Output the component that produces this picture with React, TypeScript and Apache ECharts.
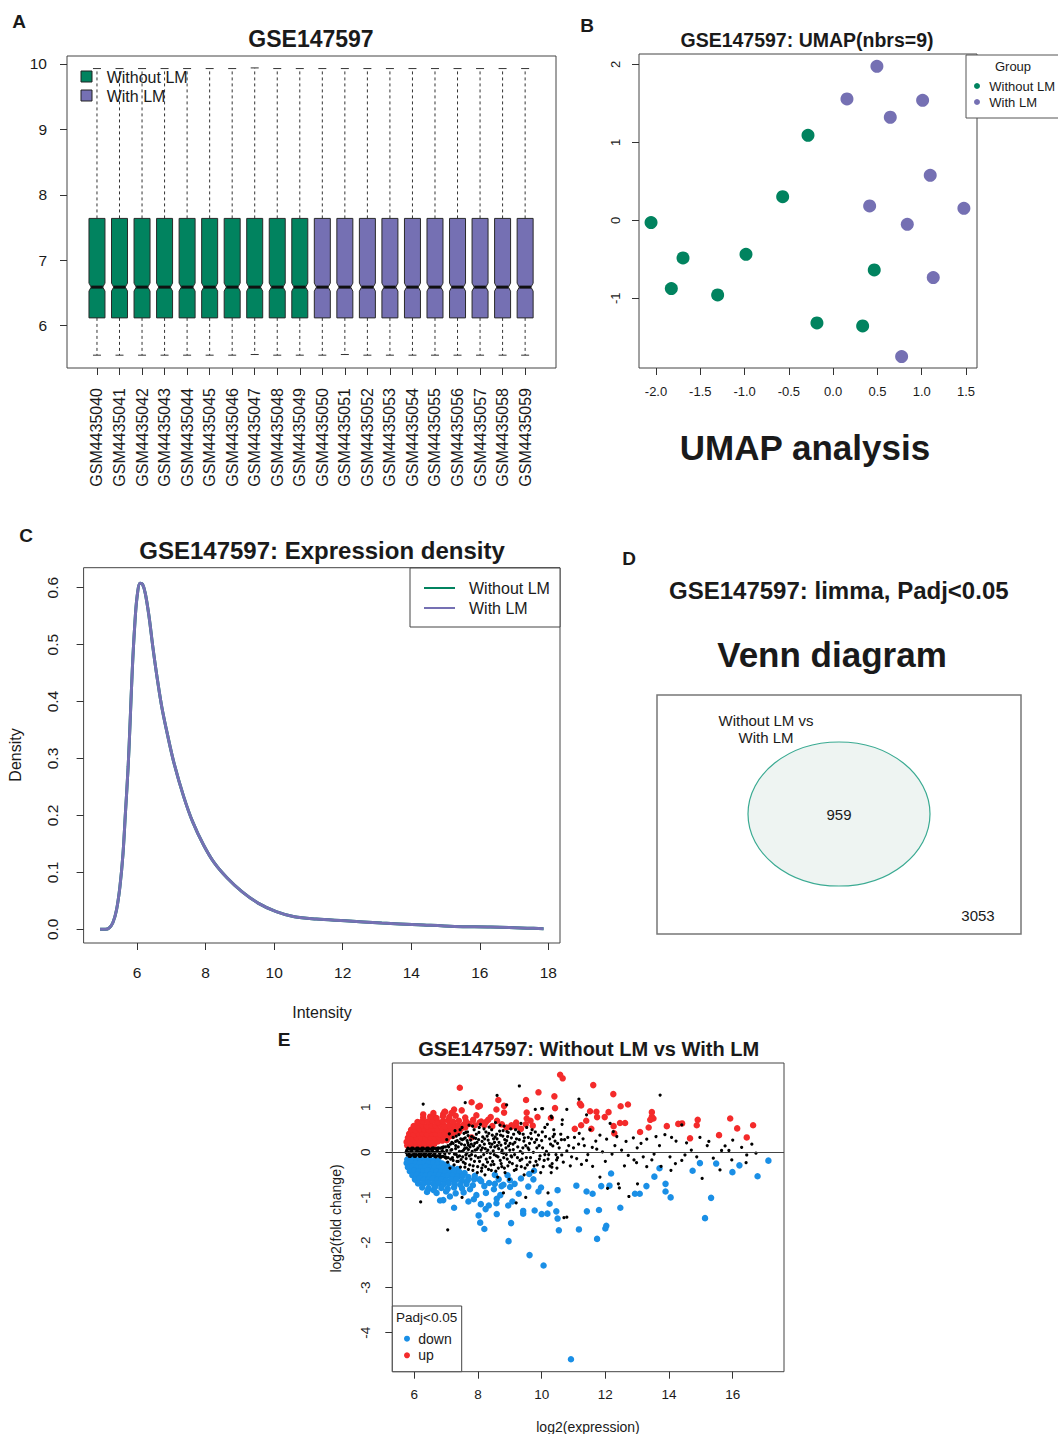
import React, { useEffect, useRef } from 'react';
import * as echarts from 'echarts';

const FONT = "'Liberation Sans', Arial, Helvetica, sans-serif";
const GREEN = '#01835f';
const PURPLE = '#7570b3';
const RED = '#f42b2b';
const BLUE = '#1a8fe6';
const INK = '#1a1a1a';
const FRAME = '#444';

// ---- Panel A: per-sample expression boxplots ----
const sampleIds = [
  'GSM4435040', 'GSM4435041', 'GSM4435042', 'GSM4435043', 'GSM4435044',
  'GSM4435045', 'GSM4435046', 'GSM4435047', 'GSM4435048', 'GSM4435049',
  'GSM4435050', 'GSM4435051', 'GSM4435052', 'GSM4435053', 'GSM4435054',
  'GSM4435055', 'GSM4435056', 'GSM4435057', 'GSM4435058', 'GSM4435059',
];
const sampleGroups = [
  'Without LM', 'Without LM', 'Without LM', 'Without LM', 'Without LM',
  'Without LM', 'Without LM', 'Without LM', 'Without LM', 'Without LM',
  'With LM', 'With LM', 'With LM', 'With LM', 'With LM',
  'With LM', 'With LM', 'With LM', 'With LM', 'With LM',
];
const whiskerLow = [5.55, 5.55, 5.55, 5.55, 5.55, 5.55, 5.55, 5.56, 5.55, 5.55, 5.55, 5.56, 5.55, 5.55, 5.55, 5.55, 5.55, 5.55, 5.55, 5.55];
const quartile1 = [6.12, 6.12, 6.12, 6.12, 6.12, 6.12, 6.12, 6.12, 6.12, 6.12, 6.12, 6.12, 6.12, 6.12, 6.12, 6.12, 6.12, 6.12, 6.12, 6.12];
const medians = [6.59, 6.59, 6.59, 6.59, 6.59, 6.59, 6.59, 6.59, 6.59, 6.59, 6.59, 6.59, 6.59, 6.59, 6.59, 6.59, 6.59, 6.59, 6.59, 6.59];
const quartile3 = [7.64, 7.64, 7.64, 7.64, 7.64, 7.64, 7.64, 7.64, 7.64, 7.64, 7.64, 7.64, 7.64, 7.64, 7.64, 7.64, 7.64, 7.64, 7.64, 7.64];
const whiskerHigh = [9.93, 9.93, 9.93, 9.93, 9.93, 9.93, 9.93, 9.94, 9.93, 9.93, 9.93, 9.93, 9.93, 9.93, 9.93, 9.93, 9.93, 9.93, 9.93, 9.93];
const boxYTicks = [6, 7, 8, 9, 10];
const boxXTicks = [1, 2, 3, 4, 5, 6, 7, 8, 9, 10, 11, 12, 13, 14, 15, 16, 17, 18, 19, 20];

// ---- Panel B: UMAP embedding ----
const umapWithoutLm = [
  [-2.056, -0.03], [-1.695, -0.483], [-1.827, -0.876], [-1.304, -0.957], [-0.984, -0.436],
  [-0.57, 0.303], [-0.284, 1.09], [-0.183, -1.316], [0.333, -1.355], [0.464, -0.637],
];
const umapWithLm = [
  [0.494, 1.974], [0.156, 1.556], [1.01, 1.538], [0.645, 1.321], [1.096, 0.577],
  [0.412, 0.184], [1.476, 0.154], [0.837, -0.051], [1.13, -0.735], [0.773, -1.748],
];
const umapXTicks = [-2, -1.5, -1, -0.5, 0, 0.5, 1, 1.5];
const umapYTicks = [-1, 0, 1, 2];

// ---- Panel C: expression density ----
const densityX = [
  4.92, 5.08, 5.18, 5.29, 5.4, 5.5, 5.59, 5.66, 5.74, 5.8, 5.86, 5.93, 6.0, 6.09, 6.16, 6.24, 6.35, 6.46, 6.58,
  6.72, 6.88, 7.09, 7.36, 7.62, 7.94, 8.26, 8.63, 9.06, 9.53, 10.06, 10.59, 11.23, 12.08, 13.14, 14.2, 15.26,
  16.32, 17.38, 17.86,
];
const densityWithoutLm = [
  0, 0, 0.002, 0.011, 0.034, 0.075, 0.133, 0.204, 0.286, 0.368, 0.455, 0.532, 0.584, 0.608, 0.606, 0.59, 0.549,
  0.496, 0.444, 0.391, 0.344, 0.289, 0.233, 0.189, 0.148, 0.116, 0.09, 0.066, 0.046, 0.031, 0.022, 0.018, 0.015,
  0.011, 0.008, 0.005, 0.004, 0.002, 0.001,
];
const densityWithLm = [
  0, 0, 0.002, 0.011, 0.034, 0.075, 0.133, 0.204, 0.286, 0.368, 0.455, 0.532, 0.584, 0.608, 0.606, 0.59, 0.549,
  0.496, 0.444, 0.391, 0.344, 0.289, 0.233, 0.189, 0.148, 0.116, 0.09, 0.066, 0.046, 0.031, 0.022, 0.018, 0.015,
  0.011, 0.008, 0.005, 0.004, 0.002, 0.001,
];
const densityXTicks = [6, 8, 10, 12, 14, 16, 18];
const densityYTicks = [0, 0.1, 0.2, 0.3, 0.4, 0.5, 0.6];

// ---- Panel D: Venn counts ----
const vennSetLabel = ['Without LM vs', 'With LM'];
const vennInside = 959;
const vennOutside = 3053;

// ---- Panel E: MA plot (log2 expression, log2 fold change) ----
const maUp = [
  [10.58, 1.72], [10.66, 1.64], [11.62, 1.49], [9.9, 1.33], [12.25, 1.29], [10.4, 1.24], [9.51, 1.16], [11.2, 1.08],
  [11.24, 1.04], [12.71, 1.06], [12.48, 1.02], [10.42, 0.98], [9.53, 0.88], [11.52, 0.91], [11.72, 0.9], [12.1, 0.89],
  [13.46, 0.89], [13.46, 0.79], [13.51, 0.75], [13.41, 0.72], [11.98, 0.78], [11.74, 0.78], [9.53, 0.75], [9.87, 0.78],
  [10.29, 0.76], [11.4, 0.7], [11.24, 0.6], [11.04, 0.52], [11.56, 0.52], [12.26, 0.58], [12.46, 0.65], [12.62, 0.65],
  [13.93, 0.58], [14.29, 0.63], [14.41, 0.64], [14.87, 0.6], [14.9, 0.72], [15.92, 0.75], [16.14, 0.53], [16.64, 0.6],
  [16.44, 0.33], [15.57, 0.38], [14.66, 0.31], [13.36, 0.55], [13.09, 0.45], [12.28, 0.42], [9.72, 0.59], [7.43, 1.43],
  [7.8, 1.11], [8.64, 1.16], [8.82, 1.03], [8.58, 0.95], [8.01, 1.01], [7.49, 0.93], [7.25, 0.95], [7.17, 0.87],
  [6.91, 0.85], [6.6, 0.81], [6.28, 0.84], [6.13, 0.66], [8.25, 0.67], [8.82, 0.88], [9.21, 0.57], [9.04, 0.56],
  [7.8, 0.33], [6.97, 0.9], [8.06, 1.03],
  [5.78, 0.15], [5.92, 0.14], [6.06, 0.16], [6.2, 0.15], [6.34, 0.16], [6.48, 0.17], [6.62, 0.18],
  [5.76, 0.23], [5.9, 0.22], [6.04, 0.24], [6.18, 0.23], [6.32, 0.22], [6.46, 0.24], [6.6, 0.25], [6.74, 0.24], [6.88, 0.26], [7.02, 0.27],
  [5.8, 0.32], [5.94, 0.31], [6.08, 0.33], [6.22, 0.32], [6.36, 0.31], [6.5, 0.33], [6.64, 0.32], [6.78, 0.33], [6.92, 0.34], [7.06, 0.33], [7.2, 0.36],
  [5.84, 0.41], [5.98, 0.4], [6.12, 0.42], [6.26, 0.41], [6.4, 0.4], [6.54, 0.42], [6.68, 0.41], [6.82, 0.4], [6.96, 0.42], [7.1, 0.43], [7.24, 0.42], [7.4, 0.45],
  [5.9, 0.5], [6.04, 0.49], [6.18, 0.51], [6.32, 0.5], [6.46, 0.49], [6.6, 0.51], [6.74, 0.5], [6.88, 0.52], [7.02, 0.5], [7.16, 0.51], [7.3, 0.53], [7.46, 0.52], [7.6, 0.55],
  [5.98, 0.58], [6.12, 0.59], [6.26, 0.6], [6.4, 0.58], [6.54, 0.6], [6.68, 0.59], [6.82, 0.61], [6.96, 0.58], [7.1, 0.6], [7.24, 0.62], [7.38, 0.59], [7.55, 0.61], [7.72, 0.63], [7.9, 0.6],
  [6.1, 0.67], [6.26, 0.69], [6.42, 0.68], [6.58, 0.7], [6.74, 0.67], [6.9, 0.69], [7.06, 0.71], [7.22, 0.68], [7.4, 0.7], [7.62, 0.69], [7.85, 0.72], [8.1, 0.68],
  [6.28, 0.77], [6.5, 0.79], [6.7, 0.76], [6.9, 0.8], [7.1, 0.78], [7.3, 0.81], [7.6, 0.77],
  [6.6, 0.87], [6.95, 0.9], [7.2, 0.88],
  [8.05, 0.66], [8.2, 0.6], [8.32, 0.72], [8.45, 0.58], [8.6, 0.7], [8.75, 0.62], [8.9, 0.55], [9.05, 0.6], [9.2, 0.66],
  [9.35, 0.52], [8.4, 0.78], [7.95, 0.82], [9.5, 0.62], [9.65, 0.7],
];
const maDown = [
  [17.12, -0.185], [16.78, -0.53], [16.21, -0.29], [15.99, -0.44], [15.48, -0.25], [14.97, -0.24], [14.74, -0.41], [15.32, -1.01],
  [15.13, -1.46], [14.05, -1.0], [13.89, -0.87], [13.89, -0.7], [13.7, -0.355], [13.54, -0.54], [13.29, -0.75], [13.08, -0.92],
  [12.93, -0.92], [12.47, -1.23], [12.18, -0.47], [12.13, -0.74], [11.87, -0.75], [12.03, -1.63], [12.0, -1.69], [11.74, -1.92],
  [11.8, -1.28], [11.6, -0.92], [11.41, -0.87], [11.42, -1.31], [11.17, -1.71], [11.09, -0.74], [10.92, -4.59], [10.54, -1.73],
  [10.5, -1.47], [10.46, -1.31], [10.5, -0.84], [10.25, -1.14], [10.06, -2.51], [10.18, -1.36], [10.0, -1.37], [9.62, -2.28],
  [9.78, -1.29], [9.42, -1.3], [9.42, -1.36], [9.9, -0.87], [9.98, -0.78], [9.74, -0.6], [9.61, -0.48], [9.58, -0.76],
  [9.76, -0.41], [8.96, -1.97], [9.04, -1.57], [8.95, -1.18], [9.08, -1.09], [9.28, -0.92], [9.01, -0.77], [8.93, -0.51],
  [8.74, -0.75], [8.59, -1.37], [8.58, -1.13], [8.59, -1.03], [8.53, -0.7], [8.53, -0.5], [8.34, -1.18], [8.2, -1.7],
  [8.07, -1.56], [8.02, -1.4], [8.24, -1.26], [8.09, -1.15], [7.87, -1.04], [7.7, -1.09], [7.25, -1.23], [7.12, -0.98],
  [6.91, -1.06], [6.81, -1.07], [6.61, -0.84], [6.44, -0.82], [6.03, -0.6],
  [5.78, -0.16], [5.92, -0.15], [6.06, -0.17], [6.2, -0.16], [6.34, -0.17], [6.48, -0.16], [6.62, -0.18], [6.76, -0.19],
  [5.76, -0.24], [5.9, -0.23], [6.04, -0.25], [6.18, -0.24], [6.32, -0.23], [6.46, -0.25], [6.6, -0.24], [6.74, -0.26], [6.88, -0.25], [7.02, -0.27],
  [5.8, -0.33], [5.94, -0.32], [6.08, -0.34], [6.22, -0.33], [6.36, -0.32], [6.5, -0.34], [6.64, -0.33], [6.78, -0.35], [6.92, -0.34], [7.06, -0.33], [7.2, -0.36], [7.36, -0.37],
  [5.86, -0.42], [6.0, -0.41], [6.14, -0.43], [6.28, -0.42], [6.42, -0.41], [6.56, -0.43], [6.7, -0.42], [6.84, -0.44], [6.98, -0.42], [7.12, -0.43], [7.26, -0.45], [7.42, -0.44], [7.58, -0.46],
  [5.94, -0.51], [6.08, -0.5], [6.22, -0.52], [6.36, -0.51], [6.5, -0.5], [6.64, -0.52], [6.78, -0.51], [6.92, -0.53], [7.06, -0.51], [7.2, -0.52], [7.36, -0.54], [7.52, -0.53], [7.7, -0.55], [7.9, -0.52],
  [6.02, -0.6], [6.16, -0.59], [6.3, -0.61], [6.44, -0.6], [6.58, -0.59], [6.72, -0.61], [6.86, -0.6], [7.0, -0.62], [7.16, -0.6], [7.32, -0.61], [7.5, -0.63], [7.68, -0.62], [7.88, -0.6], [8.1, -0.64],
  [6.12, -0.69], [6.28, -0.7], [6.44, -0.68], [6.6, -0.7], [6.76, -0.69], [6.92, -0.71], [7.08, -0.69], [7.26, -0.7], [7.44, -0.72], [7.64, -0.7], [7.84, -0.73],
  [6.25, -0.78], [6.45, -0.8], [6.65, -0.77], [6.85, -0.79], [7.05, -0.81], [7.25, -0.78], [7.5, -0.8], [7.75, -0.82],
  [6.4, -0.88], [6.7, -0.9], [7.0, -0.87], [7.3, -0.91], [7.55, -0.89],
  [8.05, -0.6], [8.2, -0.75], [8.35, -0.68], [8.5, -0.82], [8.65, -0.6], [8.8, -0.72], [9.0, -0.62], [9.15, -0.7],
  [9.35, -0.58], [8.25, -0.9], [8.7, -0.95], [7.95, -0.95],
];
const maOther = [
  [5.74, 0.0], [5.78, 0.06], [5.78, -0.06], [5.82, 0.0], [5.86, 0.07], [5.86, -0.07], [5.9, 0.01], [5.94, 0.06], [5.94, -0.06],
  [5.98, -0.01], [6.02, 0.07], [6.02, -0.07], [6.06, 0.0], [6.1, 0.06], [6.1, -0.06], [6.14, 0.01], [6.18, 0.07], [6.18, -0.07],
  [6.22, 0.0], [6.26, 0.06], [6.26, -0.06], [6.3, -0.01], [6.34, 0.07], [6.34, -0.07], [6.38, 0.0], [6.42, 0.06], [6.42, -0.06],
  [6.46, 0.01], [6.5, 0.07], [6.5, -0.07], [6.54, 0.0], [6.58, 0.06], [6.58, -0.07], [6.62, 0.0], [6.66, 0.08], [6.66, -0.07],
  [6.7, 0.01], [6.74, 0.07], [6.74, -0.08], [6.78, 0.0], [6.82, 0.09], [6.82, -0.08], [6.86, 0.01], [6.9, 0.1], [6.9, -0.09],
  [6.94, 0.0], [6.98, 0.12], [6.98, -0.1], [7.02, 0.04], [7.06, 0.15], [7.06, -0.12], [7.1, -0.02], [7.14, 0.18], [7.14, -0.15],
  [7.18, 0.06], [7.22, 0.2], [7.22, -0.18], [7.26, -0.04], [7.3, 0.24], [7.3, 0.08], [7.34, -0.2], [7.38, 0.12], [7.42, -0.08],
  [7.46, 0.3], [7.5, 0.02], [7.54, -0.22], [7.58, 0.16], [7.62, -0.06], [7.66, 0.26], [7.7, 0.06],
  [5.8, 0.09], [5.88, -0.09], [5.96, 0.09], [6.04, -0.09], [6.12, 0.09], [6.2, -0.09], [6.28, 0.09], [6.36, -0.09],
  [6.44, 0.09], [6.52, -0.09], [6.6, 0.1], [6.68, -0.1], [6.76, 0.1], [6.84, -0.11], [6.92, 0.12], [7.0, -0.13],
  [5.84, -0.09], [5.92, 0.09], [6.0, -0.09], [6.08, 0.09], [6.16, -0.09], [6.24, 0.09], [6.32, -0.09], [6.4, 0.09],
  [6.48, -0.09], [6.56, 0.09], [6.64, -0.09], [6.72, 0.09], [6.8, -0.1], [6.88, 0.11], [6.96, -0.11],
  [5.76, 0.035], [5.84, -0.035], [5.92, 0.035], [6.0, -0.035], [6.08, 0.035], [6.16, -0.035], [6.24, 0.035], [6.32, -0.035],
  [6.4, 0.035], [6.48, -0.035], [6.56, 0.035], [6.64, -0.035], [6.72, 0.035], [6.8, -0.035], [6.88, 0.035], [6.96, -0.035],
  [7.02, 0.28], [7.05, -0.22], [7.08, 0.12], [7.1, 0.41], [7.12, -0.35], [7.15, 0.05], [7.18, 0.22], [7.2, -0.12], [7.22, 0.33], [7.25, -0.28],
  [7.28, 0.48], [7.3, 0.15], [7.32, -0.05], [7.35, 0.26], [7.38, -0.2], [7.4, 0.39], [7.42, 0.02], [7.45, -0.33], [7.48, 0.18], [7.5, 0.55],
  [7.52, -0.1], [7.55, 0.3], [7.58, 0.08], [7.6, -0.25], [7.62, 0.44], [7.65, -0.02], [7.68, 0.21], [7.7, -0.38], [7.72, 0.6], [7.75, 0.12],
  [7.78, -0.15], [7.8, 0.35], [7.82, 0.02], [7.85, -0.3], [7.88, 0.5], [7.9, 0.2], [7.92, -0.08], [7.95, 0.4], [7.98, -0.45], [8.0, 0.1],
  [8.02, 0.28], [8.05, -0.2], [8.08, 0.62], [8.1, 0.05], [8.12, -0.35], [8.15, 0.34], [8.18, -0.05], [8.2, 0.18], [8.22, -0.5], [8.25, 0.45],
  [8.28, 0.0], [8.3, -0.22], [8.32, 0.27], [8.35, 0.56], [8.38, -0.12], [8.4, 0.12], [8.42, -0.4], [8.45, 0.38], [8.48, 0.03], [8.5, -0.27],
  [8.52, 0.22], [8.55, 0.66], [8.58, -0.08], [8.6, 0.3], [8.62, -0.55], [8.65, 0.08], [8.68, 0.47], [8.7, -0.18], [8.72, 0.16], [8.75, -0.32],
  [8.78, 0.36], [8.8, -0.02], [8.82, 0.58], [8.85, -0.45], [8.88, 0.1], [8.9, 0.26], [8.92, -0.15], [8.95, 0.44], [8.98, -0.6], [9.0, 0.05],
  [9.05, 0.32], [9.08, -0.25], [9.1, 0.18], [9.15, -0.05], [9.18, 0.5], [9.2, -0.38], [9.25, 0.12], [9.3, 0.28], [9.32, -0.18], [9.35, 0.64],
  [9.4, -0.02], [9.42, 0.4], [9.45, -0.5], [9.5, 0.15], [9.55, -0.28], [9.58, 0.33], [9.6, 0.06], [9.65, -0.12], [9.7, 0.5], [9.72, -0.42],
  [9.78, 0.22], [9.82, -0.2], [9.85, 0.1], [9.9, 0.38], [9.95, -0.08], [10.0, 0.26], [10.05, -0.32], [10.1, 0.55], [10.15, 0.02], [10.2, -0.15],
  [10.25, 0.3], [10.3, -0.45], [10.35, 0.14], [10.4, 0.4], [10.45, -0.05], [10.5, 0.2],
  [7.55, 0.05], [7.6, 0.32], [7.63, -0.14], [7.67, 0.45], [7.7, 0.16], [7.74, -0.28], [7.77, 0.27], [7.8, -0.05], [7.83, 0.58],
  [7.86, 0.14], [7.89, -0.2], [7.93, 0.31], [7.96, 0.06], [7.99, -0.32], [8.03, 0.44], [8.06, 0.15], [8.09, -0.1], [8.13, 0.24],
  [8.16, -0.28], [8.19, 0.52], [8.23, 0.08], [8.26, -0.15], [8.29, 0.36], [8.33, -0.38], [8.36, 0.2], [8.39, -0.02], [8.43, 0.5],
  [8.46, -0.2], [8.49, 0.3], [8.53, 0.12], [8.56, -0.42], [8.59, 0.4], [8.63, -0.1], [8.66, 0.22], [8.69, 0.6], [8.73, -0.25],
  [8.76, 0.05], [8.79, 0.48], [8.83, -0.35], [8.86, 0.2], [8.89, -0.05], [8.93, 0.35], [8.96, 0.14], [8.99, -0.22], [9.03, 0.52],
  [9.06, -0.1], [9.12, 0.4], [9.16, 0.22], [9.22, -0.3], [9.27, 0.45], [9.33, 0.02], [9.38, -0.15], [9.44, 0.25], [9.48, -0.35],
  [9.53, 0.55], [9.57, 0.1], [9.63, -0.22], [9.68, 0.3], [9.74, 0.0], [9.8, 0.45], [9.86, -0.28], [9.92, 0.15], [9.97, -0.45],
  [10.03, 0.1], [10.08, -0.18], [10.12, 0.35], [10.18, 0.62], [10.22, -0.05], [10.28, 0.18], [10.33, -0.25], [10.38, 0.5],
  [10.42, 0.25], [10.48, -0.35], [10.55, 0.1], [10.6, 0.4], [10.68, -0.22], [10.72, 0.28], [10.85, 0.15], [10.9, -0.3],
  [11.0, 0.1], [11.3, 0.3], [11.45, -0.05], [11.7, 0.25], [12.0, -0.2], [12.3, 0.15], [12.6, -0.3], [13.0, 0.1], [13.7, 0.15],
  [14.2, -0.25], [14.7, 0.05], [15.2, 0.15], [16.6, 0.18],
  [7.32, 0.36], [7.36, -0.1], [7.41, 0.22], [7.44, 0.5], [7.47, -0.16], [7.51, 0.28], [7.56, 0.42], [7.59, -0.33], [7.64, 0.1],
  [7.69, 0.37], [7.73, -0.08], [7.79, 0.18], [7.84, -0.4], [7.87, 0.32], [7.91, 0.05], [7.97, 0.22], [8.01, -0.12], [8.04, 0.55],
  [8.11, -0.42], [8.14, 0.1], [8.21, 0.3], [8.24, -0.32], [8.31, 0.05], [8.34, 0.42], [8.41, -0.28], [8.44, 0.18], [8.51, -0.05],
  [8.54, 0.34], [8.61, 0.15], [8.64, -0.35], [8.71, 0.38], [8.74, 0.0], [8.81, -0.12], [8.84, 0.28], [8.91, 0.46], [8.94, -0.3],
  [9.01, 0.2], [9.04, -0.08], [9.11, 0.06], [9.14, -0.4], [9.21, 0.3], [9.24, -0.12], [9.31, 0.42], [9.36, -0.32], [9.41, 0.1],
  [9.46, 0.32], [9.52, -0.12], [9.62, 0.2], [9.66, 0.42], [9.76, -0.3], [9.84, 0.28], [9.93, -0.15], [10.02, 0.45], [10.1, -0.05],
  [10.26, -0.3], [10.36, 0.35], [10.5, -0.12], [10.62, 0.28],
  [8.6, 1.26], [9.3, 1.47], [6.28, 1.07], [7.6, 1.1], [8.9, 1.05], [9.8, 0.95], [10.0, 0.97], [10.3, 0.8],
  [6.2, -1.1], [7.05, -1.72], [7.5, -1.0], [8.8, -0.9], [9.2, -1.12], [9.5, -1.0], [10.7, -1.45], [10.2, -0.9],
  [13.72, 1.27], [11.17, 1.18], [10.82, 0.33], [11.03, 0.33], [11.52, 0.5], [11.83, 0.38], [12.04, 0.29], [12.36, 0.35],
  [12.65, 0.24], [12.88, 0.32], [13.12, 0.2], [13.3, 0.29], [13.59, 0.35], [13.87, 0.39], [14.08, 0.33], [14.22, 0.25],
  [14.55, 0.21], [14.97, 0.33], [15.25, 0.24], [15.65, 0.04], [15.88, 0.04], [16.28, 0.11], [16.44, -0.06], [16.73, -0.02],
  [15.97, -0.17], [16.42, -0.23], [15.6, -0.39], [15.04, -0.58], [14.4, -0.18], [14.06, -0.4], [13.75, -0.31], [13.46, -0.17],
  [13.3, -0.32], [12.98, -0.23], [13.01, -0.7], [12.74, -0.98], [12.41, -0.7], [12.44, -0.79], [12.07, -0.8], [11.83, -0.55],
  [11.6, -0.31], [11.41, -0.18], [11.25, -0.27], [11.1, -0.14], [10.94, -0.1], [10.79, 0.03], [10.63, -0.06], [10.47, -0.17],
  [10.32, -0.33], [10.79, -1.44], [11.16, 0.18], [11.34, 0.15], [11.59, 0.11], [11.73, 0.07], [11.91, 0.01], [12.21, -0.04],
  [12.51, 0.05], [12.72, -0.07], [12.9, -0.17], [13.19, -0.1], [13.53, -0.04], [14.03, -0.1], [14.5, -0.06], [14.87, -0.1],
  [15.39, -0.13], [10.65, 0.72], [10.32, 0.77], [10.03, 0.97], [11.18, 0.42], [10.64, 0.62], [12.15, 0.64], [11.41, 0.83],
  [10.79, 0.95], [12.25, 0.46], [14.4, 0.61], [15.76, 0.14], [16.0, 0.27],
];
const maXTicks = [6, 8, 10, 12, 14, 16];
const maYTicks = [-4, -3, -2, -1, 0, 1];

const boxData = sampleIds.map((_, i) => [i + 1, whiskerLow[i], quartile1[i], medians[i], quartile3[i], whiskerHigh[i]]);

function valueAxis(gridIndex: number, min: number, max: number, ticks: number[], opts: any) {
  return {
    type: 'value',
    gridIndex,
    min,
    max,
    axisLine: { show: false, onZero: false },
    splitLine: { show: false },
    axisTick: { show: true, inside: false, length: 7, customValues: ticks, lineStyle: { color: '#333', width: 1 } },
    axisLabel: {
      customValues: ticks,
      color: INK,
      fontFamily: FONT,
      fontSize: opts.fontSize,
      margin: opts.margin,
      rotate: opts.rotate || 0,
      formatter: opts.formatter,
      hideOverlap: false,
    },
  };
}

function text(x: number, y: number, str: string, size: number, extra: any = {}) {
  return {
    type: 'text',
    x,
    y,
    z: 100,
    rotation: extra.rotation || 0,
    style: {
      text: str,
      fontSize: size,
      fontWeight: extra.bold ? 'bold' : 'normal',
      fontFamily: FONT,
      fill: extra.fill || INK,
      align: extra.align || 'center',
      verticalAlign: 'middle',
    },
  };
}

function renderBox(params: any, api: any) {
  const idx = params.dataIndex;
  const x = api.value(0);
  const cx = api.coord([x, api.value(3)])[0];
  const yLo = api.coord([x, api.value(1)])[1];
  const yQ1 = api.coord([x, api.value(2)])[1];
  const yMed = api.coord([x, api.value(3)])[1];
  const yQ3 = api.coord([x, api.value(4)])[1];
  const yHi = api.coord([x, api.value(5)])[1];
  const hw = 8;
  const nd = 2.2;
  const nh = 4;
  const cap = 4;
  const fill = sampleGroups[idx] === 'Without LM' ? GREEN : PURPLE;
  const whisk = { stroke: '#333', lineWidth: 1, lineDash: [3, 3] };
  const solid = { stroke: '#333', lineWidth: 1 };
  return {
    type: 'group',
    children: [
      { type: 'line', shape: { x1: cx, y1: yQ3, x2: cx, y2: yHi }, style: whisk },
      { type: 'line', shape: { x1: cx, y1: yQ1, x2: cx, y2: yLo }, style: whisk },
      { type: 'line', shape: { x1: cx - cap, y1: yHi, x2: cx + cap, y2: yHi }, style: solid },
      { type: 'line', shape: { x1: cx - cap, y1: yLo, x2: cx + cap, y2: yLo }, style: solid },
      {
        type: 'polygon',
        shape: {
          points: [
            [cx - hw, yQ1], [cx - hw, yMed + nh], [cx - hw + nd, yMed], [cx - hw, yMed - nh], [cx - hw, yQ3],
            [cx + hw, yQ3], [cx + hw, yMed - nh], [cx + hw - nd, yMed], [cx + hw, yMed + nh], [cx + hw, yQ1],
          ],
        },
        style: { fill, stroke: '#2a2a2a', lineWidth: 1 },
      },
      { type: 'line', shape: { x1: cx - hw + nd, y1: yMed, x2: cx + hw - nd, y2: yMed }, style: { stroke: '#111', lineWidth: 3 } },
    ],
  };
}

export default function App() {
  const ref = useRef<HTMLDivElement>(null);

  useEffect(() => {
    if (!ref.current) return;
    const chart = echarts.init(ref.current, null, { renderer: 'svg' });
    const gridStyle = { show: true, borderColor: FRAME, borderWidth: 1, backgroundColor: 'transparent' };

    const option: any = {
      animation: false,
      backgroundColor: '#ffffff',
      grid: [
        { left: 67, top: 56, width: 489, height: 312, ...gridStyle },
        { left: 639, top: 54, width: 338, height: 314, ...gridStyle },
        { left: 83.6, top: 567.7, width: 476.4, height: 375.3, ...gridStyle },
        { left: 392.3, top: 1063, width: 391.7, height: 308.7, ...gridStyle },
      ],
      xAxis: [
        valueAxis(0, -0.33, 21.37, boxXTicks, {
          fontSize: 16, margin: 20, rotate: 90,
          formatter: (v: number) => sampleIds[Math.round(v) - 1] || '',
        }),
        valueAxis(1, -2.192, 1.624, umapXTicks, { fontSize: 13, margin: 17, formatter: (v: number) => v.toFixed(1) }),
        valueAxis(2, 4.44, 18.34, densityXTicks, { fontSize: 15.5, margin: 21, formatter: (v: number) => String(v) }),
        valueAxis(3, 5.31, 17.61, maXTicks, { fontSize: 13.5, margin: 16, formatter: (v: number) => String(v) }),
      ],
      yAxis: [
        valueAxis(0, 5.354, 10.122, boxYTicks, { fontSize: 15.5, margin: 20, formatter: (v: number) => String(v) }),
        valueAxis(1, -1.894, 2.132, umapYTicks, { fontSize: 13, margin: 17, rotate: 90, formatter: (v: number) => String(v) }),
        valueAxis(2, -0.0241, 0.6351, densityYTicks, { fontSize: 15.5, margin: 23, rotate: 90, formatter: (v: number) => v.toFixed(1) }),
        valueAxis(3, -4.865, 1.98, maYTicks, { fontSize: 13.5, margin: 20, rotate: 90, formatter: (v: number) => String(v) }),
      ],
      series: [
        {
          type: 'custom',
          xAxisIndex: 0,
          yAxisIndex: 0,
          renderItem: renderBox,
          data: boxData,
          encode: { x: 0, y: [1, 2, 3, 4, 5] },
          silent: true,
        },
        { type: 'scatter', name: 'Without LM', xAxisIndex: 1, yAxisIndex: 1, data: umapWithoutLm, symbolSize: 13, itemStyle: { color: GREEN, opacity: 1 }, silent: true },
        { type: 'scatter', name: 'With LM', xAxisIndex: 1, yAxisIndex: 1, data: umapWithLm, symbolSize: 13, itemStyle: { color: PURPLE, opacity: 1 }, silent: true },
        {
          type: 'line', name: 'Without LM', xAxisIndex: 2, yAxisIndex: 2,
          data: densityX.map((x, i) => [x, densityWithoutLm[i]]),
          showSymbol: false, smooth: 0.35,
          lineStyle: { color: GREEN, width: 3 }, silent: true,
        },
        {
          type: 'line', name: 'With LM', xAxisIndex: 2, yAxisIndex: 2,
          data: densityX.map((x, i) => [x, densityWithLm[i]]),
          showSymbol: false, smooth: 0.35,
          lineStyle: { color: PURPLE, width: 3 }, silent: true,
        },
        { type: 'scatter', name: 'up', xAxisIndex: 3, yAxisIndex: 3, data: maUp, symbolSize: 6.5, itemStyle: { color: RED, opacity: 1 }, silent: true },
        { type: 'scatter', name: 'down', xAxisIndex: 3, yAxisIndex: 3, data: maDown, symbolSize: 6.5, itemStyle: { color: BLUE, opacity: 1 }, silent: true },
        {
          type: 'scatter', name: 'not significant', xAxisIndex: 3, yAxisIndex: 3, data: maOther, symbolSize: 3.2,
          itemStyle: { color: '#000', opacity: 1 }, silent: true,
          markLine: {
            silent: true, symbol: 'none', label: { show: false },
            lineStyle: { color: '#444', width: 1, type: 'solid' },
            data: [{ yAxis: 0 }],
          },
        },
      ],
      graphic: [
        // panel letters
        text(19, 21, 'A', 19, { bold: true }),
        text(587, 25, 'B', 19, { bold: true }),
        text(26, 535, 'C', 19, { bold: true }),
        text(629, 558, 'D', 19, { bold: true }),
        text(284, 1039, 'E', 19, { bold: true }),
        // titles
        text(311, 38.5, 'GSE147597', 23, { bold: true }),
        text(807, 39.7, 'GSE147597: UMAP(nbrs=9)', 19.5, { bold: true }),
        text(805, 447, 'UMAP analysis', 35, { bold: true }),
        text(322, 550, 'GSE147597: Expression density', 24, { bold: true }),
        text(838.8, 590.5, 'GSE147597: limma, Padj<0.05', 24, { bold: true }),
        text(832, 654, 'Venn diagram', 35, { bold: true }),
        text(588.7, 1048.5, 'GSE147597: Without LM vs With LM', 20, { bold: true }),
        // axis titles
        text(15.5, 755, 'Density', 16, { rotation: Math.PI / 2 }),
        text(322, 1012, 'Intensity', 16),
        text(336, 1218.5, 'log2(fold change)', 14, { rotation: Math.PI / 2 }),
        text(588, 1427, 'log2(expression)', 14),
        // panel A legend
        { type: 'rect', z: 100, shape: { x: 81, y: 71, width: 11, height: 11 }, style: { fill: GREEN, stroke: '#222', lineWidth: 1 } },
        { type: 'rect', z: 100, shape: { x: 81, y: 90, width: 11, height: 11 }, style: { fill: PURPLE, stroke: '#222', lineWidth: 1 } },
        text(106.7, 77, 'Without LM', 16, { align: 'left' }),
        text(106.7, 96, 'With LM', 16, { align: 'left' }),
        // panel B legend
        { type: 'rect', z: 100, shape: { x: 966, y: 55, width: 110, height: 63 }, style: { fill: '#fff', stroke: '#555', lineWidth: 1 } },
        text(1013, 66, 'Group', 13),
        { type: 'circle', z: 101, shape: { cx: 977, cy: 86, r: 3 }, style: { fill: GREEN } },
        { type: 'circle', z: 101, shape: { cx: 977, cy: 102, r: 3 }, style: { fill: PURPLE } },
        text(989.3, 86, 'Without LM', 13, { align: 'left' }),
        text(989.3, 102, 'With LM', 13, { align: 'left' }),
        // panel C legend
        { type: 'rect', z: 100, shape: { x: 410, y: 568, width: 150, height: 59 }, style: { fill: '#fff', stroke: FRAME, lineWidth: 1 } },
        { type: 'line', z: 101, shape: { x1: 424, y1: 588, x2: 455, y2: 588 }, style: { stroke: GREEN, lineWidth: 2 } },
        { type: 'line', z: 101, shape: { x1: 424, y1: 608, x2: 455, y2: 608 }, style: { stroke: PURPLE, lineWidth: 2 } },
        text(469, 588, 'Without LM', 16, { align: 'left' }),
        text(469, 608, 'With LM', 16, { align: 'left' }),
        // panel D Venn diagram
        { type: 'rect', z: 100, shape: { x: 657, y: 695, width: 364, height: 239 }, style: { fill: 'none', stroke: '#777', lineWidth: 1.5 } },
        { type: 'ellipse', z: 100, shape: { cx: 839, cy: 814, rx: 91, ry: 72 }, style: { fill: '#eef4f2', stroke: '#3aaa92', lineWidth: 1.2 } },
        text(766, 720, vennSetLabel[0], 15),
        text(766, 737.7, vennSetLabel[1], 15),
        text(839, 814, String(vennInside), 15),
        text(978, 915, String(vennOutside), 15),
        // panel E legend
        { type: 'rect', z: 100, shape: { x: 392.3, y: 1306, width: 69.4, height: 65.7 }, style: { fill: '#fff', stroke: FRAME, lineWidth: 1 } },
        text(396, 1317.7, 'Padj<0.05', 13.5, { align: 'left' }),
        { type: 'circle', z: 101, shape: { cx: 407, cy: 1338.7, r: 3 }, style: { fill: BLUE } },
        { type: 'circle', z: 101, shape: { cx: 407, cy: 1355.3, r: 3 }, style: { fill: RED } },
        text(418.3, 1338.7, 'down', 14, { align: 'left' }),
        text(418.3, 1355.3, 'up', 14, { align: 'left' }),
      ],
    };

    chart.setOption(option);
    return () => chart.dispose();
  }, []);

  return (
    <div
      ref={ref}
      style={{ position: 'absolute', left: 0, top: 0, width: 1058, height: 1434, background: '#fff' }}
    />
  );
}
